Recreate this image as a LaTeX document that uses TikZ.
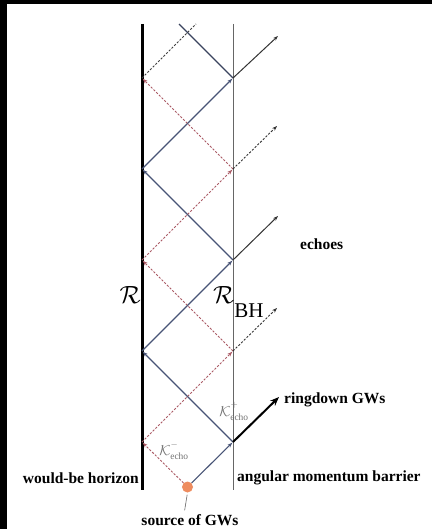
\documentclass[tikz,border=0pt]{standalone}
\usepackage{fontspec}
\setmainfont{Liberation Serif}
\usetikzlibrary{arrows.meta}
\definecolor{rayblue}{RGB}{72,84,118}
\definecolor{rayred}{RGB}{170,90,100}
\definecolor{srcorange}{RGB}{238,140,95}
\begin{document}
\begin{tikzpicture}[x=1pt,y=-1pt,
  tip/.tip={Stealth[length=5pt,width=3.6pt]},
  raya/.style={draw=rayblue,line width=1.1pt,-tip,shorten >=1pt},
  rayb/.style={draw=rayred,line width=0.9pt,dash pattern=on 2.2pt off 1.6pt,-tip,shorten >=1pt},
  exits/.style={draw=black!80,line width=1pt,-tip},
  exitd/.style={draw=black!80,line width=0.9pt,dash pattern=on 2.2pt off 1.6pt,-tip},
  lbl/.style={font=\fontsize{15.5}{17}\selectfont\bfseries,inner sep=0pt},
  klbl/.style={text=black!55,inner sep=0pt,font=\fontsize{13.5}{14}\selectfont}]
\useasboundingbox (0,0) rectangle (432,529);
\fill[white] (0,0) rectangle (432,529);
\fill[black] (0,0) rectangle (7,529);
\fill[black] (0,0) rectangle (432,4);
% walls
\coordinate (Wt) at (142,24); \coordinate (Wb) at (142,490);
\coordinate (Bt) at (233,24); \coordinate (Bb) at (233,490);
\draw[black,line width=3pt] (Wt) -- (Wb);
\draw[black!60,line width=1pt] (Bt) -- (Bb);
% reflection points
\foreach \i/\y in {1/442,2/351,3/260,4/169,5/78}{
  \coordinate (W\i) at (142,\y);
  \coordinate (B\i) at (233,\y);
}
\coordinate (TA) at (179,24);
\coordinate (TB) at (196,24);
\coordinate (E1) at (279,397);
\coordinate (E2) at (277,308);
\coordinate (E3) at (278,216);
\coordinate (E4) at (277,126);
\coordinate (E5) at (278,36);
% source
\node[circle,fill=srcorange,inner sep=0pt,minimum size=11pt] (src) at (187.5,487) {};
% family A (solid)
\draw[raya] (src) -- (B1);
\draw[raya] (B1) -- (W2);
\draw[raya] (W2) -- (B3);
\draw[raya] (B3) -- (W4);
\draw[raya] (W4) -- (B5);
\draw[draw=rayblue!80!black,line width=1.1pt] (B5) -- (TA);
% family B (dashed)
\draw[rayb] (src) -- (W1);
\draw[rayb] (W1) -- (B2);
\draw[rayb] (B2) -- (W3);
\draw[rayb] (W3) -- (B4);
\draw[rayb] (B4) -- (W5);
\draw[draw=black!75,line width=0.9pt,dash pattern=on 2.2pt off 1.6pt] (W5) -- (TB);
% exits
\draw[black,line width=2pt,-{Stealth[length=9pt,width=7pt]}] (B1) -- (E1);
\draw[exitd] (B2) -- (E2);
\draw[exits] (B3) -- (E3);
\draw[exitd] (B4) -- (E4);
\draw[exits] (B5) -- (E5);
% labels
\node[anchor=base east,inner sep=0pt,font=\fontsize{28}{30}\selectfont] (R) at (141,303) {$\mathcal{R}$};
\node[anchor=base west,inner sep=0pt,font=\fontsize{28}{30}\selectfont] (RBH) at (213,303) {$\mathcal{R}$\raisebox{-14pt}{\fontsize{21}{22}\selectfont$\mathrm{BH}$}};
\node[klbl] (Km) at (174,451) {$\mathcal{K}^{\raisebox{2.5pt}{$\scriptstyle-$}}_{\mathrm{echo}}$};
\node[klbl] (Kp) at (234,411) {$\mathcal{K}^{\raisebox{4pt}{$\scriptstyle+$}}_{\mathrm{echo}}$};
\node[lbl,anchor=west] (echoes) at (300,244) {echoes};
\node[lbl,anchor=west] (ring) at (284,400) {ringdown GWs};
\node[lbl,anchor=east] (wbh) at (139,478) {would-be horizon};
\node[lbl,anchor=west] (amb) at (237,478) {angular momentum barrier};
\node[lbl] (srcl) at (190,520) {source of GWs};
\draw[black!60,line width=0.6pt,shorten <=2pt,shorten >=4pt] (src.south) -- (srcl.north -| 184,0);
\end{tikzpicture}
\end{document}
